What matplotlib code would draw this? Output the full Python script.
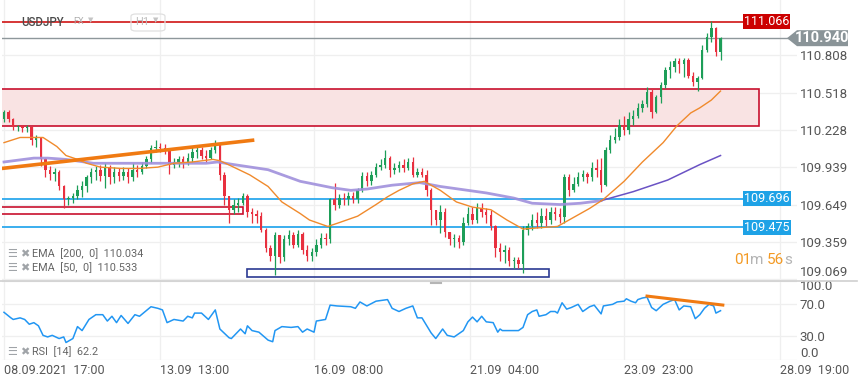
import numpy as np
import matplotlib
matplotlib.use("Agg")
import matplotlib.pyplot as plt
from matplotlib.patches import Rectangle, Polygon, FancyBboxPatch
from matplotlib.lines import Line2D
from matplotlib.transforms import blended_transform_factory

plt.rcParams["font.family"] = ["Roboto", "DejaVu Sans"]

# USDJPY H1 candles (one candle drawn for every 2 hourly bars)
opens = [110.31, 110.37, 110.31, 110.25, 110.26, 110.24, 110.25, 110.15, 110.17, 110.00,
         109.92, 109.89, 109.90, 109.79, 109.69, 109.70, 109.72, 109.76, 109.79, 109.86,
         109.90, 109.92, 109.87, 109.93, 109.86, 109.90, 109.87, 109.90, 109.86, 109.92,
         109.90, 109.95, 110.00, 110.09, 110.10, 110.09, 110.07, 109.96, 109.98, 110.00,
         109.97, 110.01, 110.06, 110.07, 110.03, 110.01, 110.07, 110.12, 109.88, 109.72,
         109.61, 109.65, 109.66, 109.72, 109.59, 109.58, 109.56, 109.45, 109.31, 109.25,
         109.41, 109.24, 109.38, 109.41, 109.34, 109.42, 109.30, 109.25, 109.28, 109.34,
         109.39, 109.38, 109.69, 109.65, 109.70, 109.69, 109.72, 109.69, 109.76, 109.87,
         109.83, 109.88, 109.94, 109.96, 110.01, 109.92, 109.93, 109.96, 109.93, 109.98,
         109.88, 109.90, 109.88, 109.76, 109.61, 109.53, 109.59, 109.44, 109.38, 109.39,
         109.36, 109.51, 109.58, 109.53, 109.62, 109.59, 109.57, 109.48, 109.31, 109.28,
         109.30, 109.21, 109.22, 109.19, 109.45, 109.48, 109.53, 109.51, 109.56, 109.53,
         109.59, 109.58, 109.55, 109.86, 109.76, 109.81, 109.86, 109.89, 109.86, 109.93,
         109.92, 109.80, 110.07, 110.15, 110.17, 110.27, 110.23, 110.31, 110.34, 110.40,
         110.43, 110.52, 110.37, 110.48, 110.58, 110.69, 110.72, 110.76, 110.74, 110.77,
         110.65, 110.60, 110.63, 110.85, 110.95, 111.02, 110.83]
highs = [110.38, 110.38, 110.32, 110.27, 110.27, 110.27, 110.26, 110.19, 110.17, 110.01,
         109.95, 109.93, 109.92, 109.80, 109.72, 109.74, 109.80, 109.83, 109.88, 109.93,
         109.95, 109.96, 109.97, 109.96, 109.94, 109.93, 109.94, 109.93, 109.97, 109.96,
         109.98, 110.03, 110.11, 110.15, 110.13, 110.12, 110.09, 110.01, 110.03, 110.03,
         110.05, 110.10, 110.11, 110.10, 110.07, 110.10, 110.15, 110.13, 109.90, 109.72,
         109.69, 109.70, 109.74, 109.73, 109.62, 109.61, 109.59, 109.47, 109.34, 109.44,
         109.41, 109.41, 109.45, 109.44, 109.45, 109.44, 109.34, 109.31, 109.38, 109.43,
         109.43, 109.70, 109.82, 109.73, 109.74, 109.75, 109.75, 109.78, 109.90, 109.90,
         109.91, 109.97, 110.00, 110.07, 110.03, 109.97, 109.99, 110.00, 110.01, 110.02,
         109.93, 109.93, 109.92, 109.78, 109.61, 109.65, 109.62, 109.44, 109.42, 109.41,
         109.55, 109.63, 109.63, 109.66, 109.66, 109.62, 109.61, 109.49, 109.35, 109.34,
         109.32, 109.24, 109.24, 109.48, 109.51, 109.58, 109.59, 109.62, 109.62, 109.63,
         109.63, 109.62, 109.89, 109.89, 109.86, 109.90, 109.92, 109.90, 109.98, 110.00,
         110.01, 110.10, 110.19, 110.24, 110.31, 110.34, 110.37, 110.38, 110.44, 110.46,
         110.56, 110.55, 110.50, 110.60, 110.72, 110.76, 110.79, 110.79, 110.79, 110.79,
         110.68, 110.65, 110.89, 110.98, 111.07, 111.03, 110.95]
lows = [110.29, 110.29, 110.23, 110.22, 110.21, 110.21, 110.11, 110.10, 109.95, 109.86,
        109.84, 109.83, 109.76, 109.62, 109.65, 109.66, 109.69, 109.71, 109.75, 109.82,
        109.84, 109.83, 109.78, 109.81, 109.82, 109.83, 109.84, 109.82, 109.83, 109.86,
        109.89, 109.93, 109.97, 110.06, 110.06, 110.04, 109.89, 109.93, 109.94, 109.93,
        109.96, 109.98, 110.01, 110.00, 109.98, 110.00, 110.05, 109.84, 109.65, 109.51,
        109.58, 109.59, 109.65, 109.55, 109.51, 109.51, 109.44, 109.28, 109.21, 109.10,
        109.20, 109.21, 109.34, 109.31, 109.32, 109.27, 109.21, 109.21, 109.25, 109.31,
        109.34, 109.35, 109.61, 109.62, 109.65, 109.65, 109.66, 109.66, 109.75, 109.79,
        109.80, 109.86, 109.92, 109.93, 109.86, 109.89, 109.90, 109.90, 109.92, 109.86,
        109.86, 109.86, 109.72, 109.49, 109.49, 109.43, 109.40, 109.34, 109.32, 109.31,
        109.34, 109.49, 109.50, 109.51, 109.55, 109.51, 109.45, 109.24, 109.21, 109.20,
        109.17, 109.16, 109.16, 109.12, 109.41, 109.45, 109.47, 109.47, 109.48, 109.50,
        109.53, 109.51, 109.51, 109.72, 109.75, 109.79, 109.83, 109.82, 109.83, 109.86,
        109.75, 109.79, 110.05, 110.13, 110.15, 110.19, 110.20, 110.27, 110.32, 110.37,
        110.41, 110.32, 110.36, 110.44, 110.55, 110.63, 110.68, 110.67, 110.64, 110.63,
        110.57, 110.53, 110.62, 110.83, 110.91, 110.80, 110.77]
closes = [110.37, 110.31, 110.25, 110.26, 110.24, 110.25, 110.15, 110.17, 110.00, 109.92,
          109.89, 109.90, 109.79, 109.69, 109.70, 109.72, 109.76, 109.79, 109.86, 109.90,
          109.92, 109.87, 109.93, 109.86, 109.90, 109.87, 109.90, 109.86, 109.92, 109.90,
          109.95, 110.00, 110.09, 110.10, 110.09, 110.07, 109.96, 109.98, 110.00, 109.97,
          110.01, 110.06, 110.07, 110.03, 110.01, 110.07, 110.12, 109.88, 109.72, 109.61,
          109.65, 109.66, 109.72, 109.59, 109.58, 109.56, 109.45, 109.31, 109.25, 109.41,
          109.24, 109.38, 109.41, 109.34, 109.42, 109.30, 109.25, 109.28, 109.34, 109.39,
          109.38, 109.69, 109.65, 109.70, 109.69, 109.72, 109.69, 109.76, 109.87, 109.83,
          109.88, 109.94, 109.96, 110.01, 109.92, 109.93, 109.96, 109.93, 109.98, 109.88,
          109.90, 109.88, 109.76, 109.61, 109.53, 109.59, 109.44, 109.38, 109.39, 109.36,
          109.51, 109.58, 109.53, 109.62, 109.59, 109.57, 109.48, 109.31, 109.28, 109.30,
          109.21, 109.22, 109.19, 109.45, 109.48, 109.53, 109.51, 109.56, 109.53, 109.59,
          109.58, 109.55, 109.86, 109.76, 109.81, 109.86, 109.89, 109.86, 109.93, 109.92,
          109.80, 110.07, 110.15, 110.17, 110.27, 110.23, 110.31, 110.34, 110.40, 110.43,
          110.52, 110.37, 110.48, 110.58, 110.69, 110.72, 110.76, 110.74, 110.77, 110.65,
          110.60, 110.63, 110.85, 110.95, 111.02, 110.83, 110.94]

# EMA lines (bar index in hours, price)
ema200_h = [0, 13, 19, 27, 39, 62, 88, 93, 100, 115, 129, 143, 151, 158, 169, 181, 190, 202,
            210, 222, 230, 242, 251, 260, 274, 289, 303, 312]
ema200_v = [109.98, 110.01, 110.01, 110.00, 109.97, 109.97, 109.97, 109.98, 109.96, 109.92,
            109.83, 109.78, 109.76, 109.77, 109.80, 109.82, 109.79, 109.76, 109.74, 109.70,
            109.66, 109.65, 109.66, 109.68, 109.75, 109.84, 109.96, 110.03]
ema50_h = [0, 7, 13, 17, 23, 27, 32, 36, 42, 51, 59, 67, 74, 82, 91, 94, 100, 107, 115, 121,
           129, 133, 141, 146, 154, 162, 167, 172, 178, 183, 190, 197, 204, 212, 219, 226,
           233, 241, 248, 255, 261, 270, 278, 287, 293, 299, 303, 308, 312]
ema50_v = [110.13, 110.17, 110.17, 110.17, 110.10, 110.03, 110.00, 109.97, 109.94, 109.93,
           109.93, 109.94, 109.97, 109.98, 110.00, 109.99, 109.94, 109.88, 109.79, 109.67,
           109.58, 109.53, 109.48, 109.51, 109.56, 109.65, 109.71, 109.76, 109.81, 109.83,
           109.76, 109.67, 109.63, 109.61, 109.53, 109.46, 109.47, 109.48, 109.55, 109.62,
           109.69, 109.83, 109.98, 110.13, 110.26, 110.36, 110.40, 110.46, 110.53]

# RSI(14)
rsi_h = [0, 3, 4, 7, 9, 11, 13, 15, 17, 19, 21, 24, 26, 27, 30, 32, 34, 37, 40, 43,
         45, 47, 49, 51, 54, 57, 59, 64, 67, 69, 71, 74, 78, 80, 82, 83, 86, 89, 92, 94,
         98, 99, 103, 105, 106, 108, 111, 115, 117, 118, 121, 125, 128, 130, 132, 135, 136, 140, 142, 145,
         151, 153, 155, 158, 162, 167, 169, 172, 175, 178, 180, 182, 186, 188, 191, 193, 196, 198, 200, 202,
         204, 206, 208, 210, 213, 215, 216, 217, 221, 224, 226, 228, 230, 232, 233, 236, 238, 240, 241, 243,
         245, 247, 250, 252, 255, 257, 260, 261, 265, 267, 270, 271, 273, 275, 276, 278, 280, 282, 284, 287,
         290, 292, 294, 296, 299, 301, 303, 305, 307, 309, 310, 312]
rsi_v = [60, 53, 51, 53, 51, 45, 47, 43, 31, 29, 31, 27, 29, 22, 27, 42, 37, 51, 57, 57,
         49, 55, 47, 56, 46, 57, 55, 67, 65, 63, 47, 51, 49, 55, 53, 59, 59, 51, 63, 39,
         28, 27, 39, 33, 43, 37, 35, 25, 23, 37, 42, 41, 42, 35, 39, 35, 49, 51, 69, 68,
         67, 65, 73, 68, 74, 76, 65, 61, 65, 68, 53, 53, 34, 27, 39, 31, 29, 33, 37, 48,
         54, 48, 55, 48, 47, 35, 39, 37, 37, 37, 41, 57, 61, 63, 55, 57, 61, 61, 59, 72,
         64, 66, 70, 61, 67, 69, 58, 68, 70, 73, 74, 77, 74, 72, 76, 78, 79, 66, 62, 70,
         74, 76, 63, 68, 67, 52, 57, 65, 70, 68, 59, 62]

# drawn objects
trend_h = [-0.9, 109]
trend_p = [109.93, 110.15]
rsi_trend_h = [280, 313]
rsi_trend_v = [80.4, 69.1]
zone_low, zone_high = 110.26, 110.545
red_box = (109.58, 109.63)
navy_box = (109.09, 109.15)
level_high = 111.066
level_last = 110.940
blue_levels = [109.696, 109.475]

price_ticks = [110.808, 110.518, 110.228, 109.939, 109.649, 109.359, 109.069]
rsi_ticks = [0, 30, 70, 100]
time_ticks = [0, 68, 135, 203, 270, 338]
time_labels = ["08.09.2021  17:00", "13.09  13:00", "16.09  08:00",
               "21.09  04:00", "23.09  23:00", "28.09  19:00"]

W, H = 859, 385
fig = plt.figure(figsize=(W / 100, H / 100), dpi=100)


def fx(x):
    return x / W


def fy(y):
    return 1 - y / H


PMIN, PMAX = 109.061, 111.236
XMIN, XMAX = -0.87, 345.3
ax = fig.add_axes([fx(2), fy(280.5), fx(797) - fx(2), 280.5 / H])
rax = fig.add_axes([fx(2), fy(360), fx(797) - fx(2), (360 - 280.5) / H])

grid_c = "#efefef"
txt_c = "#555555"
for a in (ax, rax):
    a.set_xlim(XMIN, XMAX)
    for s in a.spines.values():
        s.set_visible(False)
    a.set_xticks(time_ticks)
    a.yaxis.tick_right()
    a.tick_params(length=0, labelsize=9.5, labelcolor=txt_c, pad=2)
    a.grid(color=grid_c, lw=0.9)
    a.set_axisbelow(True)

ax.set_ylim(PMIN, PMAX)
ax.set_yticks(price_ticks)
ax.set_yticklabels([f"{v:.3f}" for v in price_ticks])
ax.set_xticklabels([])
ax.get_yticklabels()[-1].set_va("bottom")

rax.set_ylim(0, 100)
rax.set_yticks(rsi_ticks)
rax.set_yticklabels([f"{v:.1f}" for v in rsi_ticks])
rax.get_yticklabels()[0].set_va("bottom")
rax.get_yticklabels()[-1].set_va("top")
rax.set_xticklabels(time_labels, ha="left", fontsize=9)
rax.tick_params(axis="x", pad=3)

# zone and boxes
xa = blended_transform_factory(ax.transAxes, ax.transData)
ax.add_patch(Rectangle((-0.01, zone_low), 0.01 + (759 - 2) / 795, zone_high - zone_low,
                       transform=xa, fc="#f9e3e3", ec="#c8102e", lw=1.2, zorder=1.5))
ax.add_patch(Rectangle((-0.01, red_box[0]), 0.01 + (243 - 2) / 795, red_box[1] - red_box[0],
                       transform=xa, fc="none", ec="#c8102e", lw=1.2, zorder=2))
ax.add_patch(Rectangle(((247 - 2) / 795, navy_box[0]), (549 - 247) / 795, navy_box[1] - navy_box[0],
                       transform=xa, fc="none", ec="#2b3a92", lw=1.2, zorder=2))

# horizontal levels
ax.axhline(level_high, xmax=(743 - 2) / 795, color="#cc0000", lw=1.1, zorder=2)
ax.axhline(level_last, xmax=(788 - 2) / 795, color="#8e979b", lw=1.0, zorder=2)
for lv in blue_levels:
    ax.axhline(lv, xmax=(743 - 2) / 795, color="#3aaeee", lw=1.4, zorder=2)

# candles
o = np.array(opens)
hi = np.array(highs)
lo = np.array(lows)
c = np.array(closes)
hx = np.arange(len(c)) * 2
col = np.where(c >= o, "#1d9e58", "#e8303f")
ax.vlines(hx, lo, hi, colors=col, lw=0.9, zorder=3)
ax.bar(hx, np.maximum(np.abs(c - o), 0.006), bottom=np.minimum(o, c), width=1.05,
       color=col, zorder=3)

# EMAs
ax.plot(ema200_h[:24], ema200_v[:24], color="#a090dc", lw=2.0, alpha=0.9, zorder=4)
ax.plot(ema200_h[23:], ema200_v[23:], color="#6a52c4", lw=1.1, zorder=4)
ax.plot(ema50_h, ema50_v, color="#f08a2c", lw=1.0, zorder=4)
ax.plot(trend_h, trend_p, color="#f07a12", lw=2.6, zorder=5, solid_capstyle="butt")

# RSI
rax.plot(rsi_h, rsi_v, color="#2196f3", lw=1.1, zorder=3)
rax.plot(rsi_trend_h, rsi_trend_v, color="#f07a12", lw=2.2, zorder=4)

# price tags on the right
tr = blended_transform_factory(fig.transFigure, ax.transData)
ppu = 280.5 / (PMAX - PMIN)


def tag(price, x0, x1, color, text, fs=9.0, hpx=15):
    hh = hpx / 2 / ppu
    ax.add_patch(Rectangle((fx(x0), price - hh), fx(x1) - fx(x0), 2 * hh, transform=tr,
                           fc=color, ec="none", clip_on=False, zorder=10))
    ax.text(fx((x0 + x1) / 2), price, text, transform=tr, ha="center", va="center",
            color="white", fontsize=fs, zorder=11, clip_on=False)


tag(level_high, 743, 790, "#cc0000", f"{level_high:.3f}")
for lv in blue_levels:
    tag(lv, 743, 791, "#1ea2e6", f"{lv:.3f}")

hh = 8 / ppu
ax.add_patch(Polygon([(fx(787), level_last), (fx(797), level_last + hh), (fx(848), level_last + hh),
                      (fx(848), level_last - hh), (fx(797), level_last - hh)],
                     closed=True, transform=tr, fc="#8a9498", ec="none", clip_on=False, zorder=10))
ax.text(fx(822), level_last, f"{level_last:.3f}", transform=tr, ha="center", va="center",
        color="white", fontsize=10.5, fontweight="bold", zorder=11, clip_on=False)

# panel separator
fig.add_artist(Line2D([0, fx(857)], [fy(281), fy(281)], color="#cfcfcf", lw=1.2))
fig.add_artist(Line2D([fx(431), fx(441)], [fy(282.5), fy(282.5)], color="#b5b5b5", lw=1.5))

# header
fig.text(fx(21), fy(22), "USDJPY", fontsize=8.3, color="#4a4a4a", va="center", fontweight="medium")
fig.text(fx(73), fy(22), "FX", fontsize=6.5, color="#b0b0b0", va="center")
fig.text(fx(88), fy(21), "▼", fontsize=5, color="#c4c4c4", va="center")
fig.patches.append(FancyBboxPatch((fx(131), fy(31)), fx(165) - fx(131), (31 - 14) / H,
                                  boxstyle="round,pad=0,rounding_size=0.006",
                                  transform=fig.transFigure, fc="none", ec="#e0e0e0", lw=0.9))
fig.text(fx(135), fy(22), "H1", fontsize=8, color="#bdbdbd", va="center")
fig.text(fx(153), fy(21), "▼", fontsize=5, color="#c4c4c4", va="center")

# indicator legends
leg_c = "#666666"
icon_c = "#a0a4a8"
for ypx, label in [(254, "EMA  [200,  0]  110.034"), (268, "EMA  [50,  0]  110.533"),
                   (352, "RSI  [14]  62.2")]:
    fig.text(fx(7), fy(ypx), "☰", fontsize=8, color=icon_c, va="center")
    fig.text(fx(20), fy(ypx), "✖", fontsize=8, color=icon_c, va="center")
    fig.text(fx(32), fy(ypx), label, fontsize=7.8, color=leg_c, va="center")

# countdown
orange = "#f39a24"
grey = "#b4b4b4"
for xp, s, cc in [(734, "01", orange), (750, "m", grey), (767, "56", orange), (784, "s", grey)]:
    fig.text(fx(xp), fy(260), s, fontsize=11, color=cc, va="center")

fig.savefig("out.png", dpi=100)
